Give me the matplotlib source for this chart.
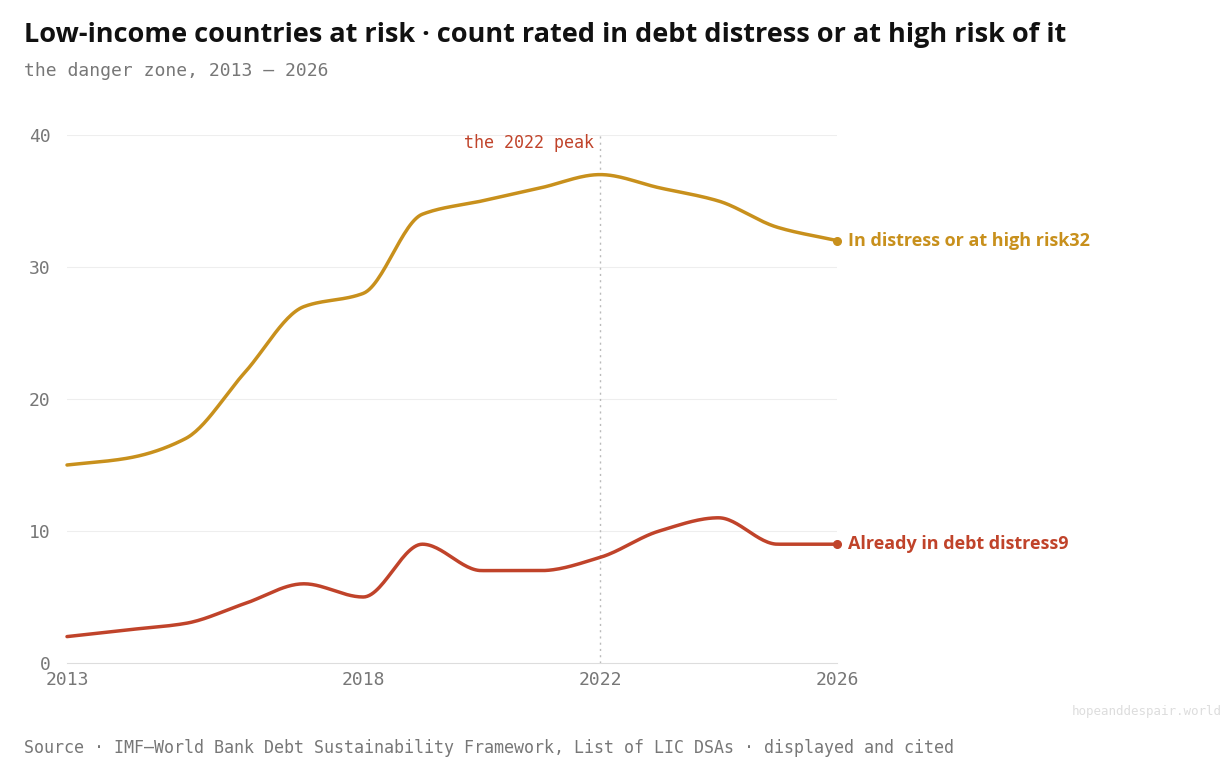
import numpy as np
import matplotlib
matplotlib.use("Agg")
import matplotlib.pyplot as plt

years = list(range(2013, 2027))
high_risk = [15, 15.5, 17, 22, 27, 28, 34, 35, 36, 37, 36, 35, 33, 32]
in_distress = [2, 2.5, 3, 4.5, 6, 5, 9, 7, 7, 8, 10, 11, 9, 9]
x_ticks = [2013, 2018, 2022, 2026]
y_ticks = [0, 10, 20, 30, 40]

GOLD = "#c8901c"
RED = "#c0432a"
GREY = "#777777"
MONO = "DejaVu Sans Mono"
SANS = ["Open Sans", "Lato", "DejaVu Sans"]


def monotone(x, y, n=30):
    # monotone cubic (Fritsch-Carlson) for the smooth line look
    x = np.asarray(x, float); y = np.asarray(y, float)
    h = np.diff(x); d = np.diff(y) / h
    m = np.zeros_like(y)
    m[0], m[-1] = d[0], d[-1]
    for i in range(1, len(y) - 1):
        if d[i - 1] * d[i] <= 0:
            m[i] = 0
        else:
            m[i] = 3 * (h[i - 1] + h[i]) / ((2 * h[i] + h[i - 1]) / d[i - 1] + (h[i] + 2 * h[i - 1]) / d[i])
    xs, ys = [], []
    for i in range(len(h)):
        t = np.linspace(0, 1, n)
        h00 = 2*t**3 - 3*t**2 + 1; h10 = t**3 - 2*t**2 + t
        h01 = -2*t**3 + 3*t**2; h11 = t**3 - t**2
        xs.append(x[i] + t * h[i])
        ys.append(h00*y[i] + h10*h[i]*m[i] + h01*y[i+1] + h11*h[i]*m[i+1])
    return np.concatenate(xs), np.concatenate(ys)


fig = plt.figure(figsize=(12.27, 7.71), dpi=100)
ax = fig.add_axes([67/1227, 1 - 663/771, (837-67)/1227, (663-135)/771])
ax.set_xlim(2013, 2026)
ax.set_ylim(0, 40)

for v in y_ticks[1:]:
    ax.axhline(v, color="#eeeeee", lw=0.8, zorder=0)
ax.axvline(2022, color="#bbbbbb", lw=1, ls=(0, (1.5, 3)), zorder=1)
ax.text(2021.9, 39.4, "the 2022 peak", color=RED, fontsize=12, family=MONO,
        ha="right", va="center")

for vals, col, label in [(high_risk, GOLD, "In distress or at high risk"),
                         (in_distress, RED, "Already in debt distress")]:
    xs, ys = monotone(years, vals)
    ax.plot(xs, ys, color=col, lw=2.5, solid_capstyle="round", clip_on=False)
    ax.plot(years[-1], vals[-1], "o", color=col, ms=5.5, clip_on=False)
    ax.annotate(f"{label}{vals[-1]}", (years[-1], vals[-1]), xytext=(8, 0),
                textcoords="offset points", color=col, fontsize=13,
                fontweight="bold", family=SANS, va="center")

for s in ["top", "right", "left"]:
    ax.spines[s].set_visible(False)
ax.spines["bottom"].set_color("#dddddd")
ax.set_xticks(x_ticks)
ax.set_yticks(y_ticks)
ax.tick_params(length=0, labelsize=13, labelcolor=GREY, pad=6)
ax.tick_params(axis="y", pad=12)
for lab in ax.get_xticklabels() + ax.get_yticklabels():
    lab.set_family(MONO)

fig.text(24/1227, 1 - 35/771, "Low-income countries at risk · count rated in debt distress or at high risk of it",
         fontsize=19.5, fontweight="bold", family=SANS, color="#111111", va="center")
fig.text(24/1227, 1 - 71/771, "the danger zone, 2013 – 2026", fontsize=13, family=MONO,
         color=GREY, va="center")
fig.text(24/1227, 1 - 748/771,
         "Source · IMF–World Bank Debt Sustainability Framework, List of LIC DSAs · displayed and cited",
         fontsize=12, family=MONO, color=GREY, va="center")
fig.text(1222/1227, 1 - 712/771, "hopeanddespair.world", fontsize=9, family=MONO,
         color="#dddddd", ha="right", va="center")

fig.savefig("out.png", dpi=100)
